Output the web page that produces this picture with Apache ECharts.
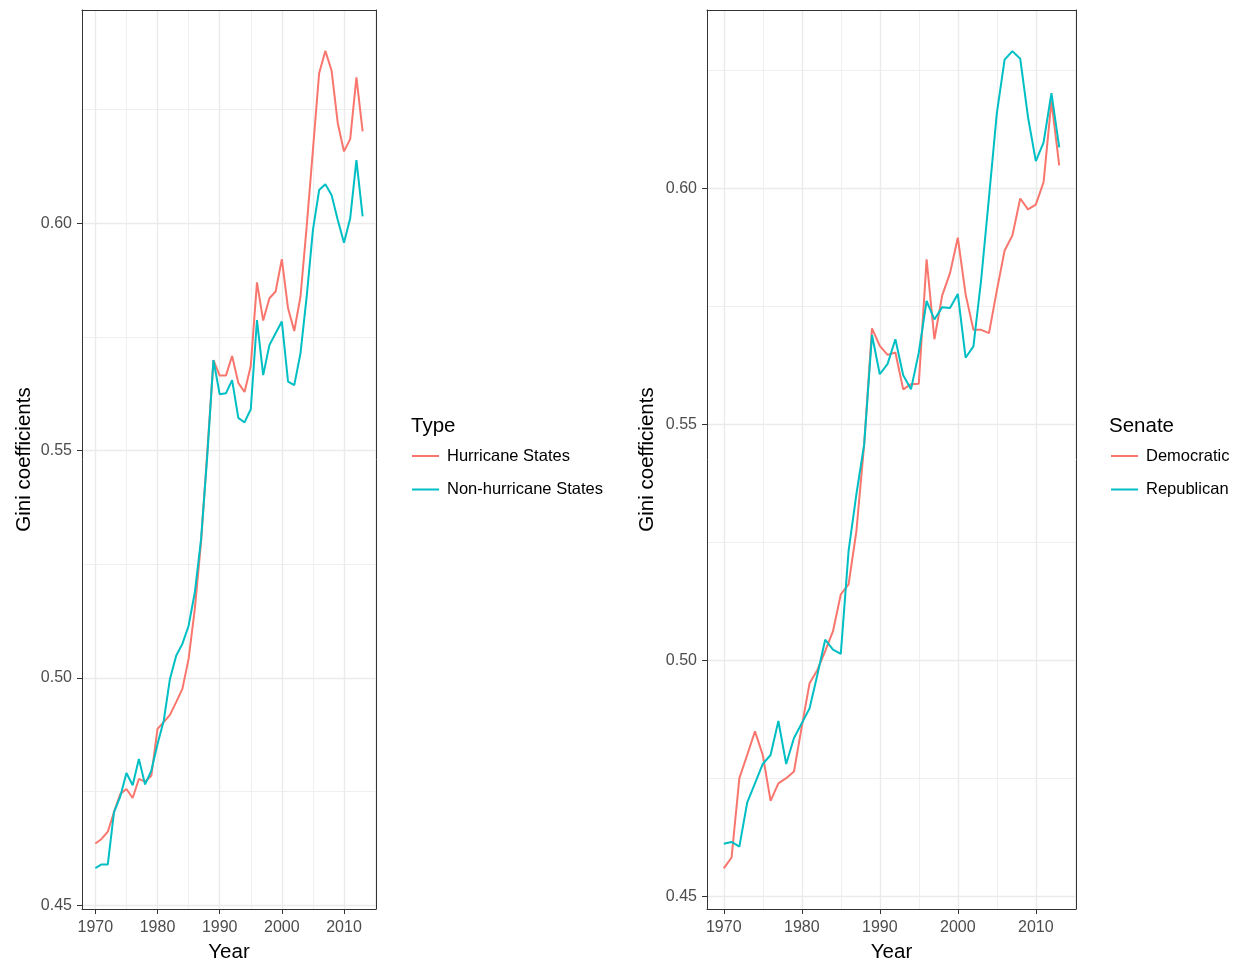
<!DOCTYPE html>
<html>
<head>
<meta charset="utf-8">
<script src="https://cdn.jsdelivr.net/npm/echarts@6/dist/echarts.min.js"></script>
<style>
  html, body { margin: 0; padding: 0; background: #ffffff; }
  #chart { width: 1239px; height: 960px; }
</style>
</head>
<body>
<div id="chart"></div>
<script>
const years = [1970,1971,1972,1973,1974,1975,1976,1977,1978,1979,1980,1981,1982,1983,1984,1985,1986,1987,1988,1989,1990,1991,1992,1993,1994,1995,1996,1997,1998,1999,2000,2001,2002,2003,2004,2005,2006,2007,2008,2009,2010,2011,2012,2013];

const hurricaneStates = [0.4636,0.4646,0.4662,0.4705,0.4745,0.4756,0.4736,0.4778,0.4772,0.4785,0.4888,0.4903,0.4919,0.4947,0.4976,0.5042,0.5152,0.5298,0.5496,0.5699,0.5665,0.5665,0.5708,0.5649,0.5629,0.5686,0.5870,0.5786,0.5835,0.5850,0.5921,0.5813,0.5763,0.5839,0.5993,0.6161,0.6330,0.6379,0.6336,0.6220,0.6158,0.6185,0.6321,0.6202];

const nonHurricaneStates = [0.4582,0.4590,0.4590,0.4705,0.4739,0.4791,0.4764,0.4822,0.4766,0.4796,0.4855,0.4906,0.4998,0.5049,0.5075,0.5115,0.5188,0.5305,0.5488,0.5699,0.5624,0.5626,0.5655,0.5572,0.5562,0.5591,0.5787,0.5666,0.5732,0.5758,0.5784,0.5652,0.5644,0.5714,0.5839,0.5985,0.6073,0.6086,0.6062,0.6007,0.5957,0.6011,0.6139,0.6015];

const democratic = [0.4560,0.4583,0.4751,0.4800,0.4850,0.4800,0.4703,0.4740,0.4751,0.4765,0.4860,0.4952,0.4980,0.5020,0.5062,0.5140,0.5161,0.5274,0.5458,0.5703,0.5666,0.5647,0.5652,0.5574,0.5585,0.5586,0.5849,0.5680,0.5773,0.5820,0.5895,0.5775,0.5700,0.5700,0.5693,0.5783,0.5868,0.5900,0.5978,0.5955,0.5965,0.6013,0.6184,0.6048];

const republican = [0.4612,0.4616,0.4606,0.4699,0.4740,0.4781,0.4800,0.4872,0.4781,0.4836,0.4867,0.4899,0.4970,0.5044,0.5023,0.5014,0.5232,0.5352,0.5458,0.5689,0.5606,0.5628,0.5680,0.5604,0.5574,0.5652,0.5761,0.5722,0.5748,0.5746,0.5776,0.5641,0.5665,0.5807,0.5981,0.6158,0.6272,0.6290,0.6274,0.6150,0.6057,0.6097,0.6201,0.6086];

const xMajorTicks = [1970,1980,1990,2000,2010];
const xMinorTicks = [1975,1985,1995,2005,2015];
const yMajorTicks = [0.45,0.50,0.55,0.60];
const yMinorTicks = [0.475,0.525,0.575,0.625];

const leftLegendTitle = 'Type';
const leftNames = ['Hurricane States','Non-hurricane States'];
const rightLegendTitle = 'Senate';
const rightNames = ['Democratic','Republican'];
const xTitle = 'Year';
const yTitle = 'Gini coefficients';

const RED = '#F8766D';
const TEAL = '#00BFC4';
const FONT = '"Liberation Sans", Arial, Helvetica, sans-serif';
const BORDER = { show: true, onZero: false, lineStyle: { color: '#333333', width: 1 } };

function pairs(xs, ys) { return xs.map((x, i) => [x, ys[i]]); }

function xMajor(gridIndex) {
  return {
    type: 'value', gridIndex: gridIndex, position: 'bottom',
    min: 1967.85, max: 2015.15,
    name: xTitle, nameLocation: 'middle', nameGap: 33,
    nameTextStyle: { color: '#000000', fontSize: 20.5, fontFamily: FONT },
    axisLine: BORDER,
    axisTick: { show: true, length: 5, customValues: xMajorTicks, lineStyle: { color: '#333333', width: 1 } },
    axisLabel: { show: true, customValues: xMajorTicks, margin: 11, color: '#4d4d4d', fontSize: 16, fontFamily: FONT, formatter: v => String(v) },
    splitLine: { show: true, lineStyle: { color: '#ebebeb', width: 1.4 } },
    z: 1
  };
}
function xMinor(gridIndex) {
  return {
    type: 'value', gridIndex: gridIndex, position: 'top',
    min: 1967.85, max: 2015.15,
    axisLine: BORDER,
    axisTick: { show: false, customValues: xMinorTicks },
    axisLabel: { show: false, customValues: xMinorTicks },
    splitLine: { show: true, lineStyle: { color: '#ebebeb', width: 0.8 } },
    z: 1
  };
}
function yMajor(gridIndex, min, max, gap) {
  return {
    type: 'value', gridIndex: gridIndex, position: 'left',
    min: min, max: max,
    name: yTitle, nameLocation: 'middle', nameGap: gap, nameRotate: 90,
    nameTextStyle: { color: '#000000', fontSize: 20.5, fontFamily: FONT },
    axisLine: BORDER,
    axisTick: { show: true, length: 5, customValues: yMajorTicks, lineStyle: { color: '#333333', width: 1 } },
    axisLabel: { show: true, customValues: yMajorTicks, margin: 10, color: '#4d4d4d', fontSize: 16, fontFamily: FONT, formatter: v => Number(v).toFixed(2) },
    splitLine: { show: true, lineStyle: { color: '#ebebeb', width: 1.4 } },
    z: 1
  };
}
function yMinor(gridIndex, min, max) {
  return {
    type: 'value', gridIndex: gridIndex, position: 'right',
    min: min, max: max,
    axisLine: BORDER,
    axisTick: { show: false, customValues: yMinorTicks },
    axisLabel: { show: false, customValues: yMinorTicks },
    splitLine: { show: true, lineStyle: { color: '#ebebeb', width: 0.8 } },
    z: 1
  };
}
function lineSeries(name, xi, yi, data, color) {
  return {
    name: name, type: 'line', xAxisIndex: xi, yAxisIndex: yi,
    data: data, showSymbol: false, symbol: 'none', smooth: false,
    lineStyle: { color: color, width: 2 }, itemStyle: { color: color },
    emphasis: { disabled: true }, z: 10, animation: false
  };
}
function legend(names, left) {
  return {
    data: names, orient: 'vertical', left: left, top: 447, padding: 0,
    icon: 'rect', itemWidth: 27, itemHeight: 2, itemGap: 15.5,
    selectedMode: false,
    textStyle: { color: '#000000', fontSize: 16.5, fontFamily: FONT, lineHeight: 18, padding: [0, 0, 0, 3] }
  };
}

const chart = echarts.init(document.getElementById('chart'), null, { renderer: 'canvas' });
chart.setOption({
  animation: false,
  backgroundColor: '#ffffff',
  grid: [
    { left: 82, top: 10, width: 294, height: 899, show: false, containLabel: false, outerBoundsMode: 'none' },
    { left: 707, top: 10, width: 369, height: 899, show: false, containLabel: false, outerBoundsMode: 'none' }
  ],
  xAxis: [xMajor(0), xMinor(0), xMajor(1), xMinor(1)],
  yAxis: [yMajor(0, 0.4492, 0.6469, 47), yMinor(0, 0.4492, 0.6469), yMajor(1, 0.4474, 0.6377, 49), yMinor(1, 0.4474, 0.6377)],
  legend: [legend(leftNames, 412), legend(rightNames, 1111)],
  graphic: [
    { type: 'text', left: 411, top: 416, style: { text: leftLegendTitle, fill: '#000000', font: '20.5px ' + FONT } },
    { type: 'text', left: 1109, top: 416, style: { text: rightLegendTitle, fill: '#000000', font: '20.5px ' + FONT } }
  ],
  series: [
    lineSeries(leftNames[0], 0, 0, pairs(years, hurricaneStates), RED),
    lineSeries(leftNames[1], 0, 0, pairs(years, nonHurricaneStates), TEAL),
    lineSeries(rightNames[0], 2, 2, pairs(years, democratic), RED),
    lineSeries(rightNames[1], 2, 2, pairs(years, republican), TEAL)
  ]
});
</script>
</body>
</html>
